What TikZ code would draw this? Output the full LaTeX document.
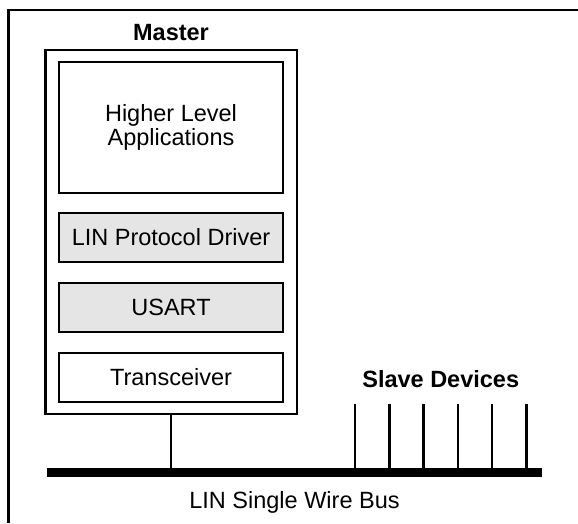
\documentclass[tikz,border=0pt]{standalone}
\usepackage{fontspec}
\setmainfont{Liberation Sans}
\usepackage{tikz}
\usetikzlibrary{positioning,fit,calc}
\tikzset{
    on grid,
    node distance=70pt,
    layer/.style = {
        draw,
        shape=rectangle,
        minimum width=224pt,
        minimum height=49pt,
        line width=2.4pt,
        font=\fontsize{23.5}{23.5}\selectfont
    },
    shaded/.style = {
        layer,
        fill=black!10
    },
    title/.style = {
        font=\fontsize{23.5}{23.5}\selectfont\bfseries
    },
    plain/.style = {
        font=\fontsize{23.5}{23.5}\selectfont
    },
    wire/.style = {
        draw,
        line width=2.4pt
    },
}

\begin{document}
\begin{tikzpicture}[x=1pt,y=-1pt]
    \useasboundingbox (0,0) rectangle (578,523);
    % outer frame, only the left and top edges show
    \draw[line width=2.4pt] (8.5,523) |- (578,10);

    % the master's layer stack
    \node[layer, minimum height=131pt, align=center] (apps) at (171,127.5) {Higher Level\\Applications};
    \node[shaded, below=110pt of apps] (driver) {LIN Protocol Driver};
    \node[shaded, below of=driver] (usart) {USART};
    \node[layer, below of=usart] (xcvr) {Transceiver};

    \node[draw, line width=2.4pt, fit=(apps)(xcvr), inner xsep=12.5pt, inner ysep=11pt] (master) {};
    \node[title, anchor=base] (mastertitle) at ($(master.north)+(0,-8.5)$) {Master};

    % the bus
    \coordinate (busl) at (47,472);
    \coordinate (busr) at (542,472);
    \path[draw, line width=9pt] (busl) -- (busr);
    \node[plain, anchor=base] (buslabel) at ($(busl)!0.5!(busr)+(0,36)$) {LIN Single Wire Bus};

    \path[wire] (master.south) -- (master.south |- busl);

    % slave taps
    \foreach \i in {1,...,6} {
        \coordinate (slave\i) at (355+34.3*\i-34.3,404);
        \path[wire] (slave\i) -- (slave\i |- busl);
    }
    \node[title, anchor=base] (slavetitle) at ($(slave1)!0.5!(slave6)+(0,-17)$) {Slave Devices};
\end{tikzpicture}
\end{document}
